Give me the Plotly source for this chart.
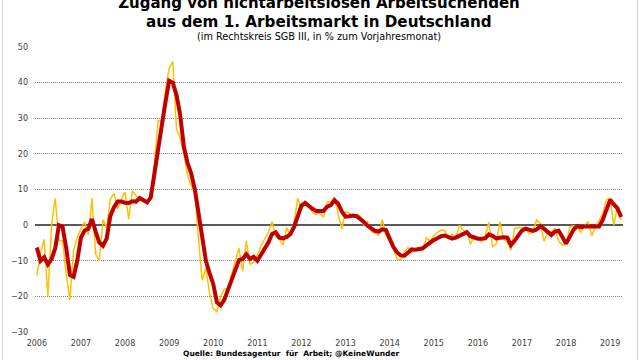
import plotly.graph_objects as go

# Monthly values, Jan 2006 - Apr 2019 (change in % vs. same month of previous year)
monthly = [
    # 2006
    -14.2, -8.0, -4.0, -20.0, 0.0, 7.5, -4.4, -4.4, -14.0, -21.0, -7.0, -3.5,
    # 2007
    -1.0, 0.9, -2.8, 7.5, -8.1, -10.0, 1.5, -0.7, 7.3, 8.9, 4.5, 7.3,
    # 2008
    9.3, 1.7, 9.6, 8.2, 7.5, 6.5, 6.4, 8.2, 17.0, 29.5, 29.0, 38.0,
    # 2009
    44.0, 46.0, 27.0, 24.5, 20.0, 14.0, 11.0, 9.0, -4.0, -15.5, -12.0, -19.0,
    # 2010
    -23.5, -24.3, -20.0, -18.0, -17.8, -13.5, -10.0, -6.5, -13.0, -4.4, -11.0, -10.5,
    # 2011
    -8.5, -5.8, -3.8, -2.0, 1.0, -3.2, -4.0, -5.5, -0.7, -3.0, 1.0, 7.5,
    # 2012
    4.5, 6.8, 5.5, 3.5, 3.0, 3.5, 2.2, 6.5, 6.5, 7.8, 3.0, -1.0,
    # 2013
    3.8, 3.5, 2.2, 3.0, 2.5, 0.0, 1.0, -1.8, -2.3, -2.8, 1.5, -3.0,
    # 2014
    -4.5, -6.7, -9.5, -9.8, -7.5, -6.3, -7.7, -6.8, -6.8, -7.0, -3.5, -4.5,
    # 2015
    -3.0, -2.0, -1.4, -1.5, -3.8, -2.5, -3.5, 0.0, -1.5, -1.8, -5.4, -3.0,
    # 2016
    -3.6, -4.6, -3.0, 0.8, -6.0, -5.3, 1.0, -4.0, -4.8, -7.0, -1.0, -0.7,
    # 2017
    -0.7, -1.0, -2.5, -1.8, 1.5, 0.5, -4.5, -2.2, -1.8, -0.9, -4.5, -5.6,
    # 2018
    -5.4, -0.5, -0.2, -0.5, -2.0, 0.0, 0.9, -3.0, -0.5, 1.2, 3.3, 7.2,
    # 2019
    7.6, 0.0, 5.4, 1.5,
]

# Smoothed trend (red line)
trend = [
    # 2006
    -6.3, -10.0, -9.0, -11.0, -9.5, -6.5, 0.0, -0.5, -6.5, -14.0, -14.5, -10.0,
    # 2007
    -3.5, -1.5, -1.0, 1.7, -1.8, -4.9, -5.8, -3.8, 2.6, 5.0, 6.6, 6.6,
    # 2008
    6.3, 6.2, 6.7, 6.6, 7.6, 7.0, 6.4, 7.8, 14.0, 21.0, 28.0, 34.5,
    # 2009
    40.5, 40.0, 36.5, 31.0, 22.0, 17.5, 14.5, 10.0, 3.5, -4.5, -10.0, -13.5,
    # 2010
    -16.5, -21.7, -22.5, -21.0, -18.3, -15.5, -12.5, -9.8, -9.5, -8.2, -9.5, -8.9,
    # 2011
    -10.0, -8.2, -6.3, -4.9, -2.5, -2.0, -3.5, -3.7, -3.3, -2.5, -0.5, 2.5,
    # 2012
    5.5, 6.2, 5.3, 4.6, 4.0, 4.0, 4.0, 5.2, 5.6, 7.0, 6.0, 3.8,
    # 2013
    2.4, 2.5, 2.7, 2.5, 1.8, 0.9, -0.2, -0.9, -1.6, -1.8, -1.2, -1.4,
    # 2014
    -4.0, -6.1, -7.6, -8.5, -8.6, -7.6, -6.8, -6.9, -6.8, -6.5, -5.7, -4.8,
    # 2015
    -4.2, -3.7, -3.1, -2.9, -3.5, -3.8, -3.5, -3.0, -2.3, -2.0, -3.1, -3.6,
    # 2016
    -3.8, -3.8, -3.7, -2.6, -3.0, -3.7, -3.5, -3.4, -3.5, -5.6, -4.4, -3.0,
    # 2017
    -1.5, -1.0, -1.2, -1.6, -1.2, -0.3, -1.0, -2.0, -2.8, -1.8, -1.6, -3.3,
    # 2018
    -5.2, -3.3, -1.3, -0.3, -0.6, -0.4, -0.4, -0.4, -0.5, -0.4, 1.5, 4.5,
    # 2019
    7.1, 5.8, 4.7, 2.3,
]

years = [str(y) for y in range(2006, 2020)]
y_ticks = [50, 40, 30, 20, 10, 0, -10, -20, -30]

title_line1 = "Zugang von nichtarbeitslosen Arbeitsuchenden"
title_line2 = "aus dem 1. Arbeitsmarkt in Deutschland"
subtitle = "(im Rechtskreis SGB III, in % zum Vorjahresmonat)"
source = "Quelle: Bundesagentur  für  Arbeit; @KeineWunder"

months = list(range(len(monthly)))
year_pos = [12 * i for i in range(len(years))]

fig = go.Figure()
fig.add_trace(go.Scatter(x=months, y=monthly, mode="lines",
                         line=dict(color="#FFC000", width=1.5), hoverinfo="skip"))
fig.add_trace(go.Scatter(x=months, y=trend, mode="lines",
                         line=dict(color="#C00000", width=4), hoverinfo="skip"))

FONT = "DejaVu Sans"
fig.update_layout(
    width=640, height=360,
    margin=dict(l=35, r=17, t=47, b=28, autoexpand=False),
    paper_bgcolor="white", plot_bgcolor="white",
    showlegend=False,
    font=dict(family=FONT, color="#404040"),
    title=dict(text=title_line1, x=0.4984, xanchor="center",
               yref="container", y=1 - 3 / 360, yanchor="middle",
               font=dict(family=FONT, size=15, color="#000000", weight="bold")),
)
fig.update_xaxes(
    range=[-0.5, len(monthly) - 0.5],
    tickvals=year_pos, ticktext=years,
    showgrid=False, zeroline=False, showline=False, ticks="",
    tickfont=dict(size=8, color="#404040"),
    ticklabelstandoff=5, automargin=False,
)
fig.update_yaxes(
    range=[-30, 50],
    tickvals=y_ticks,
    showgrid=True, gridcolor="#7f7f7f", gridwidth=1, griddash="1px,1px",
    zeroline=True, zerolinecolor="#595959", zerolinewidth=2,
    showline=False, ticks="",
    tickfont=dict(size=8, color="#404040"),
    ticklabelstandoff=6, automargin=False,
)

xc = 0.483
fig.add_annotation(text=title_line2, xref="paper", yref="paper", x=xc, y=1.089,
                   xanchor="center", yanchor="middle", showarrow=False,
                   font=dict(family=FONT, size=15.2, color="#000000", weight="bold"))
fig.add_annotation(text=subtitle, xref="paper", yref="paper", x=xc, y=1.038,
                   xanchor="center", yanchor="middle", showarrow=False,
                   font=dict(family=FONT, size=9.7, color="#000000"))
fig.add_annotation(text=source, xref="paper", yref="paper", x=0.437, y=-0.077,
                   xanchor="center", yanchor="middle", showarrow=False,
                   font=dict(family=FONT, size=7.5, color="#000000", weight="bold"))

# light frame around the chart
fig.add_shape(type="rect", xref="paper", yref="paper",
              x0=-0.0553, x1=1.0247, y0=-0.2, y1=1.3,
              line=dict(color="#d0d0d0", width=1), layer="below")

fig.write_html("out.html", config={"displayModeBar": False},
               post_script="document.body.style.margin='0';")
